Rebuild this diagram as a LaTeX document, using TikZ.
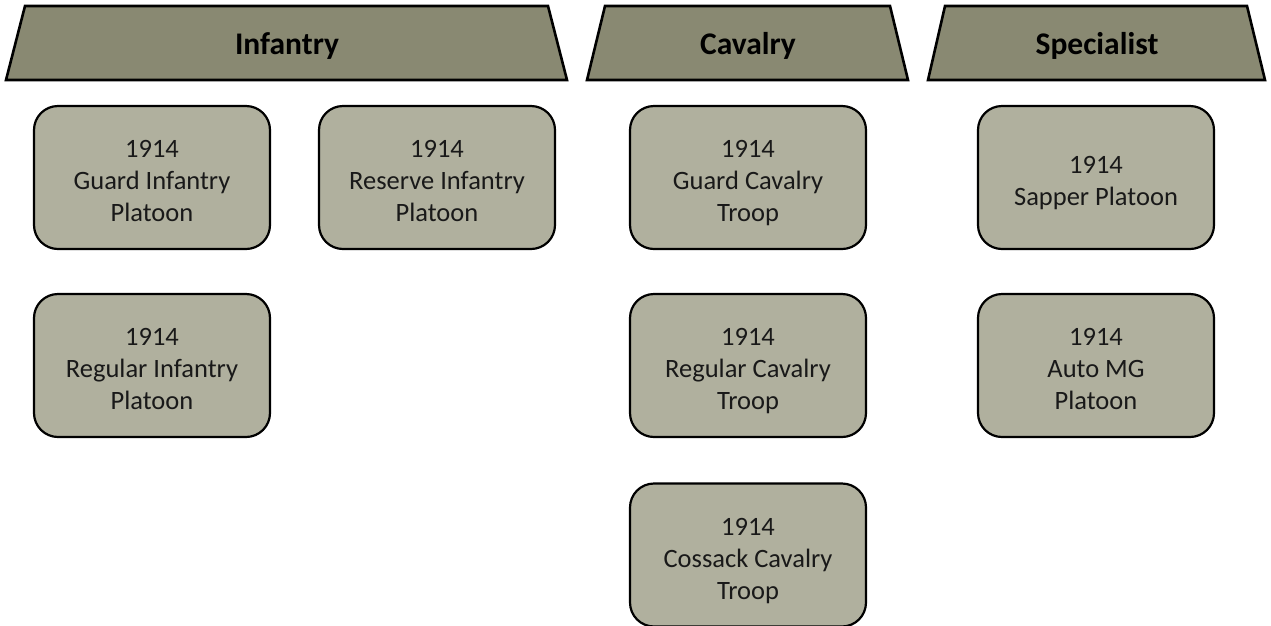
\documentclass[tikz,border=0pt]{standalone}
\usepackage{fontspec}
\setmainfont{Carlito}
% invisible rule giving the first text line extra head room
\newcommand\headroom{\rule{0pt}{34.4pt}}
\begin{document}
\begin{tikzpicture}[x=1pt,y=-1pt,
  header/.style={draw=black,line width=2.6pt,fill=headfill,line join=miter},
  headtext/.style={font=\fontsize{31.5}{36}\selectfont\bfseries,text=black},
  unitbox/.style={draw=black,line width=2.2pt,fill=boxfill,rounded corners=24pt,
    minimum width=236pt,minimum height=143pt,align=center,inner sep=0pt,
    font=\fontsize{26.5}{32}\selectfont,text=black!90,
    execute at end node=\strut}]
\definecolor{headfill}{RGB}{137,137,114}
\definecolor{boxfill}{RGB}{176,176,158}
\useasboundingbox (0,0) rectangle (1271,625);
\clip (0,0) rectangle (1271,625);

% column headers
\draw[header] (25,6) -- (548,6) -- (567,80) -- (6,80) -- cycle;
\draw[header] (605,6) -- (890,6) -- (908,80) -- (587,80) -- cycle;
\draw[header] (945,6) -- (1247,6) -- (1265,80) -- (928,80) -- cycle;
\node[headtext] (hinf) at (287,46) {Infantry};
\node[headtext] (hcav) at (748,46) {Cavalry};
\node[headtext] (hspc) at (1097,46) {Specialist};

% infantry
\node[unitbox] (ginf) at (152,177.5) {\headroom 1914\\Guard Infantry\\Platoon};
\node[unitbox] (rsinf) at (437,177.5) {\headroom 1914\\Reserve Infantry\\Platoon};
\node[unitbox] (rginf) at (152,365.5) {\headroom 1914\\Regular Infantry\\Platoon};

% cavalry
\node[unitbox] (gcav) at (748,177.5) {\headroom 1914\\Guard Cavalry\\Troop};
\node[unitbox] (rcav) at (748,365.5) {\headroom 1914\\Regular Cavalry\\Troop};
\node[unitbox] (ccav) at (748,555) {\headroom 1914\\Cossack Cavalry\\Troop};

% specialist
\node[unitbox] (sap) at (1096,177.5) {\headroom 1914\\Sapper Platoon};
\node[unitbox] (amg) at (1096,365.5) {\headroom 1914\\Auto MG\\Platoon};
\end{tikzpicture}
\end{document}
